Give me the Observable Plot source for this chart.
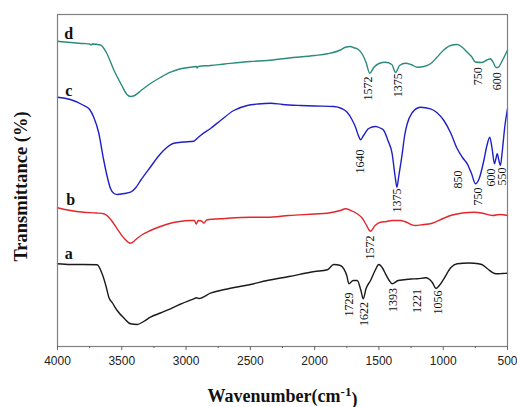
<!DOCTYPE html>
<html>
<head>
<meta charset="utf-8">
<script src="https://cdn.jsdelivr.net/npm/d3@7"></script>
<script src="https://cdn.jsdelivr.net/npm/@observablehq/plot@0.6"></script>
<style>
  html, body { margin: 0; padding: 0; background: #fff; }
  #chart { width: 517px; height: 407px; }
</style>
</head>
<body>
<div id="chart"></div>
<script>
// ---- Data (wavenumber in cm-1, transmittance in arbitrary offset units) ----
const dWave = [4000,3900,3800,3750,3740,3730,3666,3620,3560,3500,3460,3432,3400,3350,3277,3200,3121,3050,2966,2920,2914,2905,2810,2700,2500,2369,2200,2000,1902,1800,1760,1720,1700,1660,1628,1600,1572,1540,1500,1449,1400,1370,1340,1293,1250,1202,1150,1099,1050,1000,943,891,850,813,780,750,700,660,635,610,590,575,540,500];
const dT    = [305.3,304,303,302.5,301.6,302.5,301.5,294,276,261,252,250,251,256,263,269,274.3,277.5,279.3,280,278.5,280,281,282.5,285,286,288.5,291,292.7,296.5,299.3,300,299,297,292,284,273.3,279,283,284.3,282,274,281,283.3,282,279.3,280,282.7,289,296,301,302,299,294.3,290,284.5,284,286.5,287.7,284,279,279,286,296.5];

const cWave = [4000,3900,3795,3750,3718,3680,3640,3610,3588,3560,3536,3480,3432,3390,3354,3280,3199,3150,3095,3020,2940,2915,2888,2810,2732,2629,2524,2440,2343,2250,2110,2000,1851,1790,1747,1710,1682,1660,1643,1620,1580,1527,1490,1462,1430,1397,1375,1360,1345,1319,1300,1280,1240,1200,1177,1099,1050,995,940,891,850,813,780,749,720,684,660,638,620,601,590,580,567,555,540,520,500];
const cT    = [249.3,247,241,237,229.3,214,186,168,158,153,152,153,154.3,159,166,179,192.7,199,203.3,204.5,205.3,208,211,218,226,236,241,242.5,243.3,242,241,240.5,240,238,234.3,227,219.3,211,206.7,211,218,220,218.5,216,206,192.7,171,159.3,171,192.7,211,222.7,234,238.5,239.3,237.7,234,226,213,197.7,189,182.7,173,162.7,168,186,201,209.3,198,182.7,188,192.7,186,181,196,221,237.7];

const bWave = [4000,3900,3795,3700,3640,3580,3536,3480,3432,3390,3340,3277,3200,3121,3050,2966,2935,2921,2905,2880,2860,2840,2700,2500,2369,2200,2000,1902,1800,1760,1720,1669,1628,1600,1565,1530,1488,1440,1400,1332,1300,1250,1215,1150,1099,1000,943,850,760,700,616,560,500];
const bT    = [138.7,136,134.3,133.5,132.7,126,117.7,108,103.3,107,112,116,120,123.3,125,126,126,122.5,126,125.5,123.5,126.5,128,129.3,129.3,131,132.5,133.3,136,137.7,136,132.7,128,122,115.3,121,124.3,125,126,126,125,122,121,122,122.7,128,131,133.5,134.3,133.5,131,132,131];

const aWave = [4000,3900,3800,3692,3653,3620,3601,3570,3536,3480,3432,3380,3330,3277,3200,3121,3050,2940,2920,2900,2810,2700,2500,2369,2200,2000,1902,1851,1800,1773,1750,1734,1700,1669,1640,1622,1600,1565,1530,1501,1470,1449,1420,1397,1350,1306,1250,1202,1137,1086,1056,1030,995,940,891,800,760,700,656,600,578,540,500];
const aT    = [82.7,82,82,81.7,72.7,59,49.3,43,36,28,22.7,22,25,29.3,33.5,37.7,42,47.7,48.7,48,53.3,57,62,66,70,75,76.7,82,81,77.7,71,62.7,66,66,56,47.7,58,66,76,82,78,72.7,66,62.7,66,66.7,67.5,67.7,68.7,64.3,58,61,67.7,79,82.7,83.5,83.3,82,77.7,73,72.7,73,73.3];

const seriesNames  = ["a", "b", "c", "d"];
const seriesColors = ["#1a1a1a", "#e3262b", "#1f1fc9", "#2b8b7c"];

// curve labels (placed near the left edge)
const labelText = ["a", "b", "c", "d"];
const labelWave = [3912, 3898, 3912, 3912];
const labelT    = [92.7, 146.7, 255.5, 312.7];

// peak annotations
const peakText = ["1572","1375","750","600", "1640","1375","850","750","600","550", "1572", "1729","1622","1393","1221","1056"];
const peakWave = [1581,1353,726,583, 1645,1358,881,728,624,539, 1566, 1731,1612,1392,1200,1039];
const peakTop  = [270,273.3,279.3,274.3, 197,158,176,159,178,179, 111, 54,44.5,58.5,57.5,56];

const majorTicks = [4000,3500,3000,2500,2000,1500,1000,500];
const minorTicks = [3750,3250,2750,2250,1750,1250,750];

// ---- Build tables ----
const waves = {a: aWave, b: bWave, c: cWave, d: dWave};
const trans = {a: aT, b: bT, c: cT, d: dT};
const rows = seriesNames.flatMap(s => waves[s].map((w, i) => ({series: s, w, t: trans[s][i]})));
const labels = labelText.map((t, i) => ({text: t, w: labelWave[i], t: labelT[i]}));
const peaks = peakText.map((t, i) => ({text: t, w: peakWave[i], t: peakTop[i]}));

const serif = "'Liberation Serif', 'Times New Roman', serif";
const sans = "'Liberation Sans', Arial, sans-serif";

const chart = Plot.plot({
  width: 517,
  height: 407,
  marginLeft: 57,
  marginRight: 10,
  marginTop: 14,
  marginBottom: 61,
  x: {domain: [4000, 500]},
  y: {domain: [0, 332], axis: null},
  color: {domain: seriesNames, range: seriesColors},
  style: {fontFamily: sans, background: "#fff", overflow: "visible"},
  marks: [
    Plot.line(rows, {x: "w", y: "t", z: "series", stroke: "series", strokeWidth: 1.4, curve: "monotone-x"}),
    Plot.frame({stroke: "#808080", strokeWidth: 1.2}),
    Plot.axisX({ticks: majorTicks, tickSize: 4, tickPadding: 6, fontSize: 12, fill: "#222", stroke: "#666", label: null, tickFormat: d3.format("d")}),
    Plot.axisX({ticks: minorTicks, tickSize: 2, stroke: "#666", label: null, tickFormat: () => ""}),
    Plot.text(labels, {x: "w", y: "t", text: "text", fontFamily: serif, fontWeight: "bold", fontSize: 16, fill: "#111"}),
    Plot.text(peaks, {x: "w", y: "t", text: "text", rotate: -90, textAnchor: "end", fontFamily: serif, fontSize: 12, fill: "#111"}),
    Plot.text(["Transmittance (%)"], {frameAnchor: "left", textAnchor: "middle", lineAnchor: "middle", dx: -36, dy: 6, rotate: -90, fontFamily: serif, fontWeight: "bold", fontSize: 18.5, fill: "#111"}),
    Plot.text(["Wavenumber(cm-1)"], {frameAnchor: "bottom", textAnchor: "middle", lineAnchor: "middle", dy: 50, fontFamily: serif, fontWeight: "bold", fontSize: 18, fill: "#111"})
  ]
});

// superscript on the x title
d3.select(chart).selectAll("text").filter(function() { return this.textContent === "Wavenumber(cm-1)"; })
  .each(function() {
    const t = d3.select(this);
    t.text(null);
    t.append("tspan").text("Wavenumber(cm");
    t.append("tspan").attr("dy", "-0.45em").attr("font-size", "13").text("-1");
    t.append("tspan").attr("dy", "0.45em").text(")");
  });

document.getElementById("chart").appendChild(chart);
</script>
</body>
</html>
